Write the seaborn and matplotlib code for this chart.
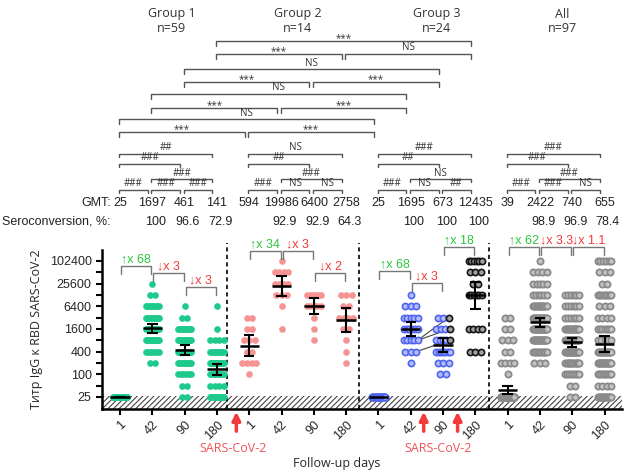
import numpy as np
import pandas as pd
import seaborn as sns
import matplotlib.pyplot as plt
from matplotlib.ticker import FixedLocator, NullFormatter

# titer levels (reciprocal dilution) and number of sera at each level
levels = [25, 50, 100, 200, 400, 800, 1600, 3200, 6400, 12800, 25600, 51200, 102400]
days = ['1', '42', '90', '180']

g1_d1 = [59, 0, 0, 0, 0, 0, 0, 0, 0, 0, 0, 0, 0]
g1_d42 = [0, 0, 0, 2, 7, 14, 14, 10, 9, 2, 1, 0, 0]
g1_d90 = [2, 2, 6, 10, 12, 13, 11, 2, 1, 0, 0, 0, 0]
g1_d180 = [14, 4, 9, 16, 10, 4, 1, 0, 1, 0, 0, 0, 0]
g2_d1 = [0, 0, 1, 4, 2, 3, 2, 2, 0, 0, 0, 0, 0]
g2_d42 = [0, 0, 0, 0, 0, 0, 1, 0, 1, 3, 4, 4, 1]
g2_d90 = [0, 0, 0, 0, 0, 1, 1, 1, 5, 6, 0, 0, 0]
g2_d180 = [0, 0, 0, 1, 1, 1, 2, 4, 2, 3, 0, 0, 0]
g3_d1 = [24, 0, 0, 0, 0, 0, 0, 0, 0, 0, 0, 0, 0]
g3_d42 = [0, 0, 0, 1, 3, 5, 6, 5, 3, 1, 0, 0, 0]
g3_d90 = [0, 0, 2, 3, 7, 5, 4, 3, 0, 0, 0, 0, 0]
g3_d180 = [0, 0, 0, 0, 3, 0, 4, 0, 0, 6, 2, 3, 6]

# group 3 sera that rose between day 42 and day 90
g3_rise_d42 = [800, 800, 400]
g3_rise_d90 = [3200, 1600, 800]

group_names = ['Group 1', 'Group 2', 'Group 3', 'All']
group_n = [59, 14, 24, 97]
gmt = [25, 1697, 461, 141, 594, 19986, 6400, 2758, 25, 1695, 673, 12435, 39, 2422, 740, 655]
sero = ['', '100', '96.6', '72.9', '', '92.9', '92.9', '64.3',
        '', '100', '100', '100', '', '98.9', '96.9', '78.4']
fold_text = ['↑x 68', '↓x 3', '↓x 3', '↑x 34', '↓x 3', '↓x 2',
             '↑x 68', '↓x 3', '↑x 18', '↑x 62', '↓x 3.3', '↓x 1.1']

# comparisons between groups (column indices) and within groups
between_pairs = [(3, 11), (3, 7), (7, 11), (2, 10), (2, 6), (6, 10),
                 (1, 9), (1, 5), (5, 9), (0, 8), (0, 4), (4, 8)]
between_sig = ['***', '***', 'NS', 'NS', '***', '***', 'NS', '***', '***', 'NS', '***', '***']
within_pairs = [(0, 3), (0, 2), (1, 3), (0, 1), (1, 2), (2, 3)]
g1_within = ['##', '###', '###', '###', '###', '###']
g2_within = ['NS', '##', '###', '###', 'NS', 'NS']
g3_within = ['###', '##', 'NS', '###', 'NS', '##']
all_within = ['###', '###', '###', '###', '###', 'NS']

# layout (pixel rows from the top of the figure)
between_y = [41, 54, 54, 69, 82, 82, 94, 108, 108, 119, 132, 132]
within_y = [154, 164, 179, 190, 190, 190]
fold_y = [266, 273, 287, 251, 251, 273, 271, 283, 247, 247, 247, 247]
t_crit = {14: 2.16, 24: 2.07, 59: 2.0, 97: 1.985}

counts = [g1_d1, g1_d42, g1_d90, g1_d180, g2_d1, g2_d42, g2_d90, g2_d180,
          g3_d1, g3_d42, g3_d90, g3_d180]
counts += [np.sum([counts[d], counts[4 + d], counts[8 + d]], axis=0) for d in range(4)]


def row_offsets(vals, step=0.17, maxhalf=0.21):
    off = np.zeros(len(vals))
    for v in np.unique(vals):
        idx = np.where(vals == v)[0]
        if len(idx) > 1:
            half = min((len(idx) - 1) * step / 2, maxhalf)
            off[idx] = np.linspace(-half, half, len(idx))
    return off


rows = []
for i, c in enumerate(counts):
    vals = np.repeat(levels, c)
    off = row_offsets(vals)
    kind = ['g1', 'g2', 'g3', 'all'][i // 4]
    kinds = [kind] * len(vals)
    if i == 11:
        kinds = ['g3x'] * len(vals)
    if i == 10:
        for v in g3_rise_d90:
            j = np.where(vals == v)[0]
            j = [k for k in j if kinds[k] == 'g3']
            kinds[max(j, key=lambda k: off[k])] = 'g3x'
    for v, o, k in zip(vals, off, kinds):
        rows.append({'col': i, 'pos': i + o, 'titer': v, 'kind': k})
df = pd.DataFrame(rows)

sns.set_style('ticks')
plt.rcParams['font.family'] = ['Liberation Sans', 'DejaVu Sans']
plt.rcParams['hatch.linewidth'] = 0.8
plt.rcParams['hatch.color'] = '#444444'

W, H = 633, 476
fig = plt.figure(figsize=(W / 100, H / 100), dpi=100)
ax = fig.add_axes([102 / W, (H - 409) / H, 520 / W, 159 / H])
ax.set_xlim(-0.56, 15.54)
ax.set_yscale('log', base=2)
ax.set_ylim(12, 200000)

ax.axhspan(12, 26, facecolor='white', edgecolor='#444444', hatch='//////', lw=0, zorder=1)

styles = {
    'g1': dict(color='#1dca8c', edgecolor='#1dca8c', linewidth=0.3),
    'g2': dict(color='#f69494', edgecolor='#f69494', linewidth=0.3),
    'g3': dict(color='#b3bcff', edgecolor='#5065ee', linewidth=1.2),
    'g3x': dict(color='#a0a0a0', edgecolor='#151515', linewidth=1.2),
    'all': dict(color='#c4c4c4', edgecolor='#8a8a8a', linewidth=1.3),
}
for k, st in styles.items():
    sub = df[df['kind'] == k]
    sns.scatterplot(data=sub, x='pos', y='titer', s=20, ax=ax, zorder=3, legend=False, **st)

# lines for sera that rose between day 42 and day 90 in group 3
d42 = df[df['col'] == 9]
d90 = df[(df['col'] == 10) & (df['kind'] == 'g3x')]
for v0, v1 in zip(g3_rise_d42, g3_rise_d90):
    x0 = d42[d42['titer'] == v0]['pos'].max()
    x1 = d90[d90['titer'] == v1]['pos'].max()
    ax.plot([x0, x1], [v0, v1], color='#444444', lw=0.8, zorder=2.5)

# geometric mean with 95% CI
for i in range(16):
    lv = np.log2(df[df['col'] == i]['titer'].to_numpy(dtype=float))
    m = lv.mean()
    ci = t_crit[len(lv)] * lv.std(ddof=1) / np.sqrt(len(lv))
    ax.hlines(2 ** m, i - 0.3, i + 0.3, color='black', lw=1.8, zorder=4)
    if ci > 0:
        ax.vlines(i, 2 ** (m - ci), 2 ** (m + ci), color='black', lw=1.5, zorder=4)
        ax.hlines([2 ** (m - ci), 2 ** (m + ci)], i - 0.16, i + 0.16, color='black', lw=1.5, zorder=4)

for xd in [3.3, 7.4, 11.42]:
    ax.axvline(xd, ymin=0, ymax=1.045, color='black', lw=1.2, ls=(0, (2.5, 2)), clip_on=False, zorder=2)

major = [25, 100, 400, 1600, 6400, 25600, 102400]
ax.yaxis.set_major_locator(FixedLocator(major))
ax.set_yticklabels([str(v) for v in major])
ax.yaxis.set_minor_locator(FixedLocator([50, 200, 800, 3200, 12800, 51200]))
ax.yaxis.set_minor_formatter(NullFormatter())
ax.set_xticks(range(16))
ax.set_xticklabels(days * 4, rotation=45, ha='right', va='top', rotation_mode='anchor')
ax.tick_params(axis='both', which='both', length=4, width=1.5, labelsize=9, color='black')
ax.tick_params(axis='x', pad=3)
for sp in ['left', 'bottom']:
    ax.spines[sp].set_linewidth(1.8)
    ax.spines[sp].set_color('black')
sns.despine(ax=ax)
ax.set_ylabel('Титр IgG к RBD SARS-CoV-2', fontsize=9, labelpad=5,
              family=['Open Sans', 'DejaVu Sans'])
ax.set_xlabel('Follow-up days', fontsize=9, family=['Open Sans', 'DejaVu Sans'])
ax.xaxis.set_label_coords(0.452, -0.30)

# overlay in pixel rows for annotations
ov = fig.add_axes([102 / W, 0, 520 / W, 1])
ov.set_xlim(ax.get_xlim())
ov.set_ylim(H, 0)
ov.axis('off')


def bracket(c0, c1, y, label, leg=4, fs=7, color='#555555', tcolor='#333333', fam=None):
    x0, x1 = c0 - 0.03, c1 - 0.14
    ov.plot([x0, x0, x1, x1], [y + leg, y, y, y + leg], color=color, lw=1, clip_on=False)
    dy = 2.5 if label == '***' else 6
    ov.text((x0 + x1) / 2, y - dy, label, ha='center', va='center', fontsize=fs,
            color=tcolor, family=fam or ['Open Sans', 'DejaVu Sans'])


for (c0, c1), lab, y in zip(between_pairs, between_sig, between_y):
    bracket(c0, c1, y, lab, leg=5)
for g, sig in enumerate([g1_within, g2_within, g3_within, all_within]):
    for (c0, c1), lab, y in zip(within_pairs, sig, within_y):
        bracket(4 * g + c0, 4 * g + c1, y, lab, leg=3)

for g in range(4):
    xc = [1.6, 5.5, 9.8, 13.7][g]
    ov.text(xc, 14, group_names[g], ha='center', va='center', fontsize=9,
            color='#333333', family=['Open Sans', 'DejaVu Sans'])
    ov.text(xc, 29, f'n={group_n[g]}', ha='center', va='center', fontsize=9,
            color='#333333', family=['Open Sans', 'DejaVu Sans'])

ov.text(-0.28, 203, 'GMT:', ha='right', va='center', fontsize=9, color='#222222')
ov.text(-0.3, 222, 'Seroconversion, %:', ha='right', va='center', fontsize=9, color='#222222')
for i in range(16):
    ov.text(i, 203, str(gmt[i]), ha='center', va='center', fontsize=9, color='#222222')
    ov.text(i + 0.1, 222, sero[i], ha='center', va='center', fontsize=9, color='#222222')

fold_pairs = [(4 * g + d, 4 * g + d + 1) for g in range(4) for d in range(3)]
for (c0, c1), lab, y in zip(fold_pairs, fold_text, fold_y):
    x0, x1 = c0 + 0.03, c1 - 0.03
    ov.plot([x0, x0, x1, x1], [y + 8, y, y, y + 8], color='#777777', lw=1, clip_on=False)
    col = '#2fc43f' if lab.startswith('↑') else '#f23a3a'
    ov.text((x0 + x1) / 2, y - 7, lab, ha='center', va='center', fontsize=9, color=col,
            family=['Liberation Sans', 'DejaVu Sans'])

for xa in [3.6, 9.4, 10.45]:
    ov.annotate('', xy=(xa, 409), xytext=(xa, 434),
                arrowprops=dict(arrowstyle='-|>', color='#f23c3c', lw=2.5, mutation_scale=12))
for xs in [3.5, 9.85]:
    ov.text(xs, 448, 'SARS-CoV-2', ha='center', va='center', fontsize=9, color='#f0545a',
            family=['Open Sans', 'DejaVu Sans'])

fig.savefig('out.png', dpi=100)
